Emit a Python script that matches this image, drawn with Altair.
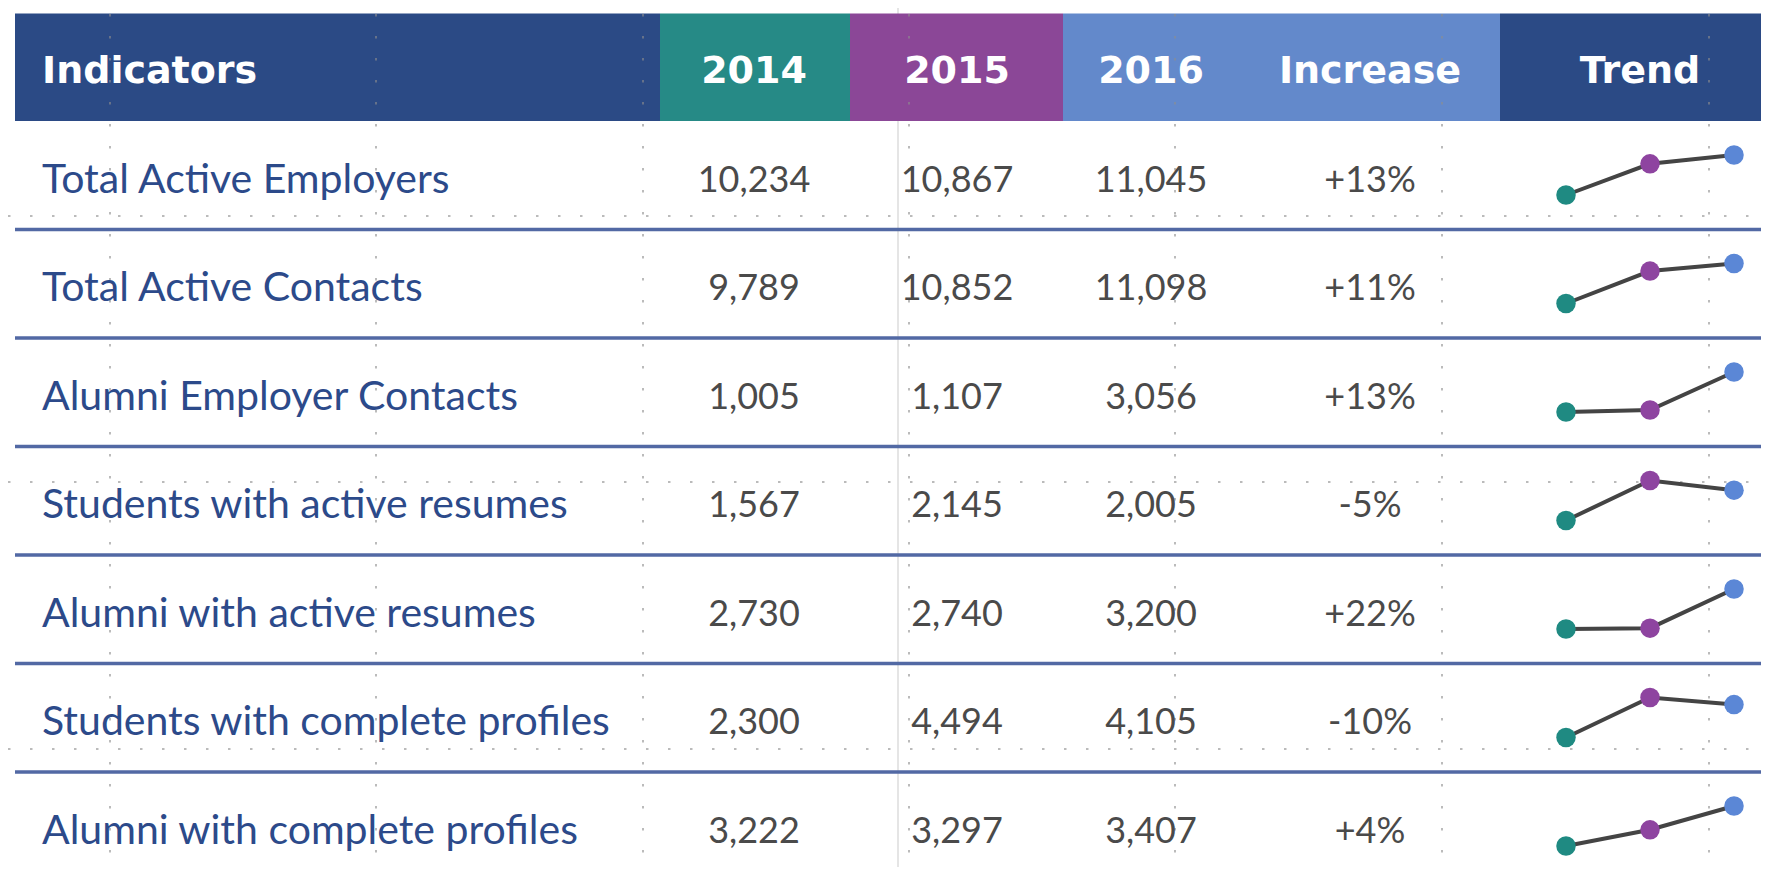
import altair as alt
import pandas as pd

# ---------------- data ----------------
indicators = [
    "Total Active Employers",
    "Total Active Contacts",
    "Alumni Employer Contacts",
    "Students with active resumes",
    "Alumni with active resumes",
    "Students with complete profiles",
    "Alumni with complete profiles",
]
years = ["2014", "2015", "2016"]
v2014 = [10234, 9789, 1005, 1567, 2730, 2300, 3222]
v2015 = [10867, 10852, 1107, 2145, 2740, 4494, 3297]
v2016 = [11045, 11098, 3056, 2005, 3200, 4105, 3407]
increase = ["+13%", "+11%", "+13%", "-5%", "+22%", "-10%", "+4%"]
header_labels = ["Indicators", "2014", "2015", "2016", "Increase", "Trend"]

# ---------------- layout / style (page pixels) ----------------
M = 8
W, H = 1753, 859
HEADER_TOP, HEADER_BOTTOM, ROW_H = 13.5, 121, 108.5
header_bands = [(15, 660, "#2b4a85"), (660, 850, "#268a86"), (850, 1063, "#8b4797"),
                (1063, 1500, "#6389cb"), (1500, 1769, "#2b4a85")]
header_text_x = [42, 754, 957, 1151, 1370, 1640]
header_align = ["left", "center", "center", "center", "center", "center"]
value_x = [754, 957, 1151, 1370]
trend_x = [1566, 1650, 1734]
year_colors = ["#1f8a82", "#8e44a0", "#5b87d6"]
LABEL_X = 42
ROW_TEXT_OFFSET = 59.5
TREND_LOW, TREND_SPAN = 74, 40
grid_x = [110, 376, 643, 909, 1175, 1442, 1709]
grid_y = [216, 482, 749]
FONT = "Lato"
HEAD_FONT = "DejaVu Sans"

X = alt.Scale(domain=[M, M + W], range=[0, W], clamp=True)
Y = alt.Scale(domain=[M, M + H], range=[0, H], clamp=True)

def xq(f):
    return alt.X(f + ":Q", scale=X, axis=None)

def yq(f):
    return alt.Y(f + ":Q", scale=Y, axis=None)

# ---------------- tables ----------------
header_rect_df = pd.DataFrame({
    "x": [b[0] for b in header_bands], "x2": [b[1] for b in header_bands],
    "color": [b[2] for b in header_bands],
    "y": HEADER_TOP, "y2": HEADER_BOTTOM,
})
header_txt_df = pd.DataFrame({"label": header_labels, "x": header_text_x,
                              "align": header_align, "y": 72})

rows = []
vals = []
trend = []
cols = [v2014, v2015, v2016]
for i, name in enumerate(indicators):
    top = HEADER_BOTTOM + ROW_H * i
    yc = top + ROW_TEXT_OFFSET
    rows.append({"label": name, "x": LABEL_X, "y": yc})
    for j, arr in enumerate(cols):
        vals.append({"text": f"{arr[i]:,}", "x": value_x[j], "y": yc})
        trend.append({"ind": name, "year": years[j], "value": arr[i], "x": trend_x[j],
                      "top": top, "color": year_colors[j]})
    vals.append({"text": increase[i], "x": value_x[3], "y": yc})
rows_df = pd.DataFrame(rows)
vals_df = pd.DataFrame(vals)
trend_df = pd.DataFrame(trend)
sep_df = pd.DataFrame({"y": [HEADER_BOTTOM + ROW_H * k for k in range(1, len(indicators))],
                       "x": 15, "x2": 1769})

vgrid_df = pd.DataFrame({"x": grid_x, "y": 14, "y2": 875})
hgrid_df = pd.DataFrame({"y": grid_y, "x": 0, "x2": 1769})
faint_df = pd.DataFrame({"x": [898], "y": [0], "y2": [875]})

# ---------------- layers ----------------
header_rects = alt.Chart(header_rect_df).mark_rect().encode(
    x=xq("x"), x2="x2", y=yq("y"), y2="y2", color=alt.Color("color:N", scale=None))

header_text_left = alt.Chart(header_txt_df).transform_filter("datum.align == 'left'").mark_text(
    align="left", baseline="middle", font=HEAD_FONT, fontSize=38, fontWeight="bold", color="white"
).encode(x=xq("x"), y=yq("y"), text="label:N")
header_text_center = alt.Chart(header_txt_df).transform_filter("datum.align == 'center'").mark_text(
    align="center", baseline="middle", font=HEAD_FONT, fontSize=38, fontWeight="bold", color="white"
).encode(x=xq("x"), y=yq("y"), text="label:N")

faint = alt.Chart(faint_df).mark_rule(color="#dcdcdc", strokeWidth=1.5).encode(
    x=xq("x"), y=yq("y"), y2="y2")
vgrid = alt.Chart(vgrid_df).mark_rule(color="#8f8f8f", strokeWidth=1.5, strokeDash=[2.5, 19.5], opacity=0.8).encode(
    x=xq("x"), y=yq("y"), y2="y2")
hgrid = alt.Chart(hgrid_df).mark_rule(color="#8f8f8f", strokeWidth=1.5, strokeDash=[2.5, 19.5], opacity=0.8).encode(
    y=yq("y"), x=xq("x"), x2="x2")

seps = alt.Chart(sep_df).mark_rule(color="#5269a4", strokeWidth=3.5).encode(
    y=yq("y"), x=xq("x"), x2="x2")

labels = alt.Chart(rows_df).mark_text(
    align="left", baseline="middle", font=FONT, fontSize=41, color="#2c4a8a"
).encode(x=xq("x"), y=yq("y"), text="label:N")

values = alt.Chart(vals_df).mark_text(
    align="center", baseline="middle", font=FONT, fontSize=36, color="#4a4a4a"
).encode(x=xq("x"), y=yq("y"), text="text:N")

trend_base = alt.Chart(trend_df).transform_joinaggregate(
    vmin="min(value)", vmax="max(value)", groupby=["ind"]
).transform_calculate(
    ty=f"datum.top + {TREND_LOW} - {TREND_SPAN} * (datum.value - datum.vmin) / (datum.vmax - datum.vmin)"
)
trend_lines = trend_base.mark_line(color="#444444", strokeWidth=4).encode(
    x=xq("x"), y=yq("ty"), detail="ind:N", order="year:O")
trend_points = trend_base.mark_circle(size=380, opacity=1).encode(
    x=xq("x"), y=yq("ty"), color=alt.Color("color:N", scale=None))

chart = alt.layer(
    faint, header_rects, vgrid, hgrid, seps, header_text_left, header_text_center,
    labels, values, trend_lines, trend_points
).properties(
    width=W, height=H, padding=0, autosize=alt.AutoSizeParams(type="none")
).configure(background="white").configure_view(stroke=None)

chart.save("out.html", embed_options={"renderer": "svg", "actions": False})
